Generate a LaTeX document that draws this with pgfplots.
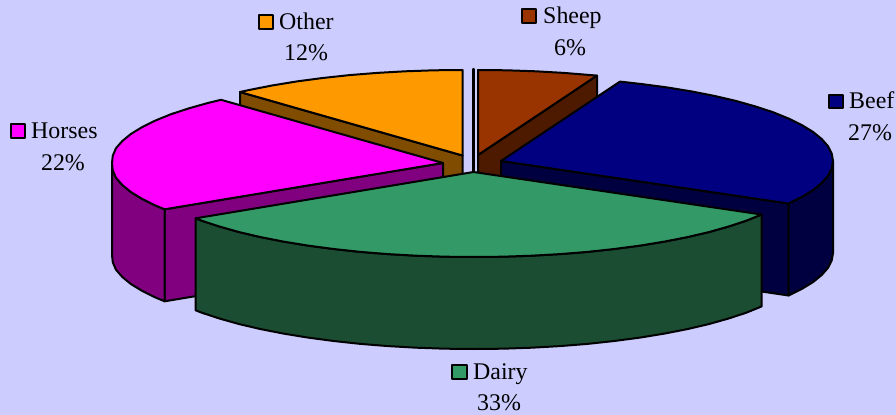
\documentclass[border=0pt]{standalone}
\usepackage{pgfplots}
\usepackage{fontspec}
\setmainfont{Liberation Serif}
\pgfplotsset{compat=1.18}
\definecolor{bgc}{RGB}{204,204,255}
\definecolor{beef}{RGB}{0,0,128}
\definecolor{beefs}{RGB}{0,0,64}
\definecolor{dairy}{RGB}{51,153,102}
\definecolor{dairys}{RGB}{27,77,51}
\definecolor{horses}{RGB}{255,0,255}
\definecolor{horsess}{RGB}{128,0,128}
\definecolor{other}{RGB}{255,153,0}
\definecolor{others}{RGB}{128,77,0}
\definecolor{sheep}{RGB}{153,51,0}
\definecolor{sheeps}{RGB}{77,26,0}
\tikzset{
  lab/.style={anchor=base west, inner sep=0pt, font=\fontsize{24}{24}\selectfont, text=black},
  cen/.style={anchor=base, inner sep=0pt, font=\fontsize{24}{24}\selectfont, text=black}
}
\begin{document}
\begin{tikzpicture}
\begin{axis}[
  width=896bp, height=415bp, scale only axis,
  xmin=0, xmax=896, ymin=0, ymax=415, y dir=reverse,
  hide axis, clip=false,
  every axis plot/.append style={no markers, sharp plot, line join=round, line cap=round, line width=2bp, draw=black}
]
% background
\addplot[fill=bgc, draw=none] coordinates {(0,0)(896,0)(896,415)(0,415)} -- cycle;
% separating line
\addplot[line width=2.4bp] coordinates {(473.3,69)(473.3,172)};
% Sheep wall and top
\addplot[fill=sheeps] coordinates {(478,155)(597,75.6)(597,167.6)(478,247)} -- cycle;
\addplot[fill=sheep] coordinates {(478,155)(478,70)(506.9,70.3)(535.7,71.3)(563.9,72.9)(597,75.6)} -- cycle;
% Other wall and top
\addplot[fill=others] coordinates {(240,92)(462.5,155.5)(462.5,247)(240,184)} -- cycle;
\addplot[fill=other] coordinates {(462.5,155.5)(240,92)(249.6,89.9)(272.6,85.4)(297,81.4)(322.7,78)(349.5,75.1)(377.1,72.9)(405.3,71.3)(434.1,70.3)(462.5,70)} -- cycle;
% Beef walls and top
\addplot[fill=beefs] coordinates {(501,161)(788.5,203.5)(788.5,295.5)(501,253)} -- cycle;
\addplot[fill=beefs] coordinates {(833,161)(831.7,168.4)(828,175.8)(821.7,183)(813,190.1)(801.9,196.9)(788.5,203.5)(788.5,295.5)(801.9,288.9)(813,282.1)(821.7,275)(828,267.8)(831.7,260.4)(833,253)} -- cycle;
\addplot[fill=beef] coordinates {(501,161)(620,81.6)(641.3,84)(667,87.4)(691.4,91.4)(714.4,95.9)(735.8,100.9)(755.3,106.4)(773,112.2)(788.5,118.5)(801.9,125.1)(813,131.9)(821.7,139)(828,146.2)(831.7,153.6)(833,161)(831.7,168.4)(828,175.8)(821.7,183)(813,190.1)(801.9,196.9)(788.5,203.5)} -- cycle;
% Horses walls and top
\addplot[fill=horsess] coordinates {(443,163)(164.6,209.3)(164.6,301.3)(443,255)} -- cycle;
\addplot[fill=horsess] coordinates {(112,163)(112.8,170.4)(116,177.8)(122.3,185)(131,192.1)(142.1,198.9)(155.5,205.5)(164.6,209.3)(164.6,301.3)(155.5,297.5)(142.1,290.9)(131,284.1)(122.3,277)(116,269.8)(112.8,262.4)(112,255)} -- cycle;
\addplot[fill=horses] coordinates {(443,163)(221,99.8)(208.2,102.9)(188.7,108.4)(171,114.2)(155.5,120.5)(142.1,127.1)(131,133.9)(122.3,141)(116,148.2)(112.8,155.6)(112,163)(112.8,170.4)(116,177.8)(122.3,185)(131,192.1)(142.1,198.9)(155.5,205.5)(164.6,209.3)} -- cycle;
% Dairy wall and top
\addplot[fill=dairys] coordinates {(761.5,214.5)(746,220.8)(728.3,226.6)(708.8,232.1)(687.4,237.1)(664.4,241.6)(640,245.6)(614.3,249)(587.5,251.9)(559.9,254.1)(531.7,255.7)(502.9,256.7)(474,257)(445.1,256.7)(416.3,255.7)(388.1,254.1)(360.5,251.9)(333.7,249)(308,245.6)(283.6,241.6)(260.6,237.1)(239.2,232.1)(219.7,226.6)(202,220.8)(195.6,218.3)(195.6,310.3)(202,312.8)(219.7,318.6)(239.2,324.1)(260.6,329.1)(283.6,333.6)(308,337.6)(333.7,341)(360.5,343.9)(388.1,346.1)(416.3,347.7)(445.1,348.7)(474,349)(502.9,348.7)(531.7,347.7)(559.9,346.1)(587.5,343.9)(614.3,341)(640,337.6)(664.4,333.6)(687.4,329.1)(708.8,324.1)(728.3,318.6)(746,312.8)(761.5,306.5)} -- cycle;
\addplot[fill=dairy] coordinates {(473.5,172)(761.5,214.5)(746,220.8)(728.3,226.6)(708.8,232.1)(687.4,237.1)(664.4,241.6)(640,245.6)(614.3,249)(587.5,251.9)(559.9,254.1)(531.7,255.7)(502.9,256.7)(474,257)(445.1,256.7)(416.3,255.7)(388.1,254.1)(360.5,251.9)(333.7,249)(308,245.6)(283.6,241.6)(260.6,237.1)(239.2,232.1)(219.7,226.6)(202,220.8)(195.6,218.3)} -- cycle;
% legend keys
\addplot[fill=other] coordinates {(259,15)(273,15)(273,29)(259,29)} -- cycle;
\addplot[fill=sheep] coordinates {(522,9)(536,9)(536,23)(522,23)} -- cycle;
\addplot[fill=beef] coordinates {(829,95)(843,95)(843,108.5)(829,108.5)} -- cycle;
\addplot[fill=horses] coordinates {(11,124)(25,124)(25,138)(11,138)} -- cycle;
\addplot[fill=dairy] coordinates {(452,365)(467,365)(467,379)(452,379)} -- cycle;
% labels
\node[lab] at (axis cs:279,29.5) {Other};
\node[cen] at (axis cs:306,60.5) {12\%};
\node[lab] at (axis cs:543,23.5) {Sheep};
\node[cen] at (axis cs:570,55.5) {6\%};
\node[lab] at (axis cs:849,108.5) {Beef};
\node[cen] at (axis cs:870,140.5) {27\%};
\node[lab] at (axis cs:31,138.5) {Horses};
\node[cen] at (axis cs:63,170.5) {22\%};
\node[lab] at (axis cs:473,379.5) {Dairy};
\node[cen] at (axis cs:499,410.5) {33\%};
\end{axis}
\end{tikzpicture}
\end{document}
